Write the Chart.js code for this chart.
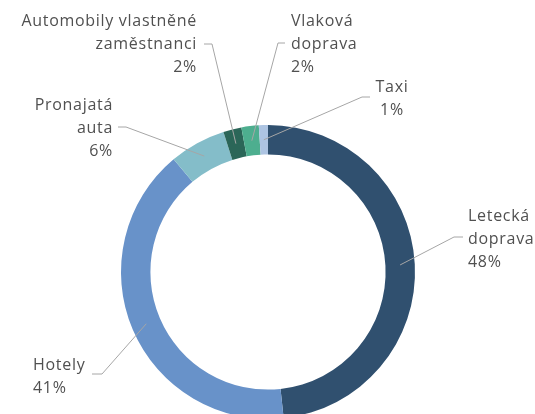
<!DOCTYPE html>
<html>
<head>
<meta charset="utf-8">
<script src="https://cdn.jsdelivr.net/npm/chart.js@4"></script>
<style>
  html, body { margin: 0; padding: 0; background: #fff; overflow: hidden; }
  #wrap { width: 535px; height: 414px; overflow: hidden; }
</style>
</head>
<body>
<div id="wrap"><canvas id="graf" width="535" height="440"></canvas></div>
<script>
// Kategorie a hodnoty (podíl v %)
const kategorie = [
  ['Letecká', 'doprava'],
  ['Hotely'],
  ['Pronajatá', 'auta'],
  ['Automobily vlastněné', 'zaměstnanci'],
  ['Vlaková', 'doprava'],
  ['Taxi']
];
const hodnoty = [48.3, 40.6, 6.2, 2.0, 1.9, 1.0];
const barvy = ['#30506F', '#6892C9', '#84BDC9', '#2B6658', '#4DAE8F', '#ADC4E2'];

// Umístění popisků: lom čáry, konec čáry, text
const popisky = [
  { lom: [454, 237], konec: [463, 237], tx: 468, ty: [216, 239, 262], align: 'left' },
  { lom: [102, 374], konec: [92, 374], tx: 33, ty: [365, 388], align: 'left' },
  { lom: [126, 127], konec: [118, 127], tx: 113, ty: [105, 128, 151], align: 'right' },
  { lom: [212, 44], konec: [204, 44], tx: 197, ty: [21, 44, 67], align: 'right' },
  { lom: [278, 43], konec: [285, 43], tx: 291, ty: [21, 44, 67], align: 'left' },
  { lom: [362, 97], konec: [370, 97], tx: 392, ty: [87, 110], align: 'center' }
];

const soucet = hodnoty.reduce((a, b) => a + b, 0);

const popiskyPlugin = {
  id: 'popisky',
  afterDatasetsDraw(chart) {
    const ctx = chart.ctx;
    const meta = chart.getDatasetMeta(0);
    ctx.save();
    meta.data.forEach((arc, i) => {
      const p = arc.getCenterPoint();
      const l = popisky[i];
      ctx.strokeStyle = '#A6A6A6';
      ctx.lineWidth = 1;
      ctx.beginPath();
      ctx.moveTo(p.x, p.y);
      ctx.lineTo(l.lom[0], l.lom[1]);
      ctx.lineTo(l.konec[0], l.konec[1]);
      ctx.stroke();

      const radky = kategorie[i].concat([Math.round(hodnoty[i] / soucet * 100) + '%']);
      ctx.fillStyle = '#505050';
      ctx.font = '16px "Open Sans"';
      ctx.letterSpacing = '0.7px';
      ctx.textAlign = l.align;
      ctx.textBaseline = 'middle';
      radky.forEach((t, j) => ctx.fillText(t, l.tx, l.ty[j]));
    });
    ctx.restore();
  }
};

new Chart(document.getElementById('graf'), {
  type: 'doughnut',
  data: {
    labels: kategorie,
    datasets: [{
      data: hodnoty,
      backgroundColor: barvy,
      borderWidth: 0
    }]
  },
  options: {
    responsive: false,
    animation: false,
    cutout: '80%',
    layout: { padding: { top: 125, left: 121, right: 120, bottom: 21 } },
    plugins: {
      legend: { display: false },
      tooltip: { enabled: false }
    }
  },
  plugins: [popiskyPlugin]
});
</script>
</body>
</html>
